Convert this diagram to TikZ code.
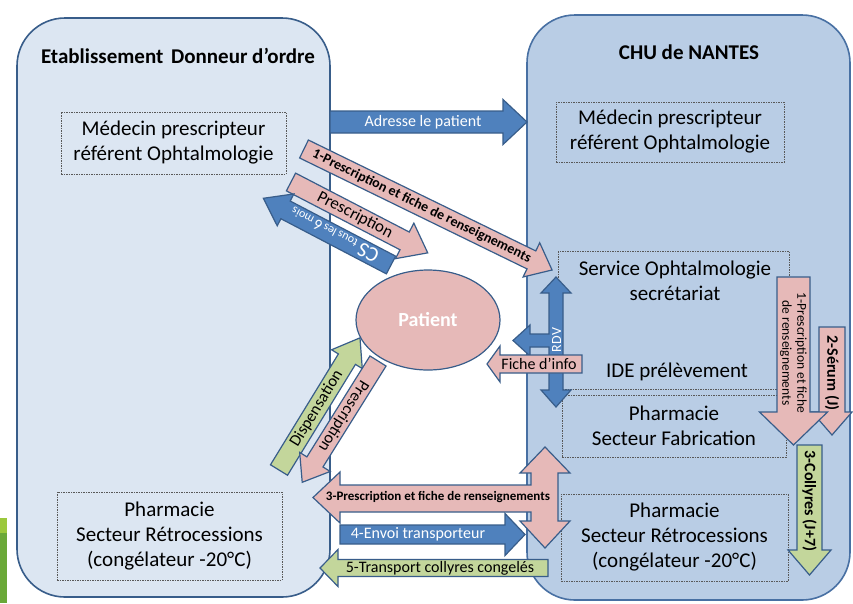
\documentclass[tikz,border=0pt]{standalone}
\usepackage{fontspec}
\setmainfont{Carlito}
\usetikzlibrary{shapes.geometric}

\definecolor{panelA}{RGB}{220,230,242}
\definecolor{panelB}{RGB}{185,205,229}
\definecolor{edgeblue}{RGB}{56,93,138}
\definecolor{edgeright}{RGB}{72,112,163}
\definecolor{arrblue}{RGB}{79,129,189}
\definecolor{arrpink}{RGB}{230,185,184}
\definecolor{arrgreen}{RGB}{195,214,155}
\definecolor{barlight}{RGB}{155,200,60}
\definecolor{bardark}{RGB}{106,168,56}

\tikzset{
  panel/.style={line width=1.6pt, rounded corners=48pt},
  ibox/.style={draw=black!65, line width=0.6pt, dash pattern=on 1.5pt off 1pt},
  boxtxt/.style={font=\fontsize{21}{25}\selectfont, align=center, inner sep=0pt},
  title/.style={font=\bfseries\fontsize{21}{25}\selectfont},
  blockedge/.style={draw=edgeblue, line width=1.2pt, line join=miter},
  bluearr/.style={blockedge, fill=arrblue},
  pinkarr/.style={blockedge, fill=arrpink},
  greenarr/.style={blockedge, fill=arrgreen},
  wtxt/.style={text=white, inner sep=0pt},
  ktxt/.style={text=black, inner sep=0pt},
}

% block arrow along +x: style, length, shaft half width, head half width, head length
\newcommand{\blockarrow}[5]{%
  \draw[#1] (0,{-#3}) -- ({#2-#5},{-#3}) -- ({#2-#5},{-#4}) -- (#2,0)
    -- ({#2-#5},{#4}) -- ({#2-#5},{#3}) -- (0,{#3}) -- cycle;}

\begin{document}
\begin{tikzpicture}[x=1pt, y=-1pt]
    \useasboundingbox (0,0) rectangle (853,603);

    % panels
    \draw[panel, draw=edgeblue, fill=panelA] (17,18) rectangle (330,597);
    \draw[panel, draw=edgeright, fill=panelB] (527,15) rectangle (850,600);
    \fill[barlight] (0,518) rectangle (7,533);
    \fill[bardark] (0,533) rectangle (7,603);

    \node[title] (titleL) at (178,56) {Etablissement\hspace{3pt} Donneur d’ordre};
    \node[title] (titleR) at (689,52) {CHU de NANTES};

    % boxes
    \node[ibox, boxtxt, minimum width=225, minimum height=62] (medL) at (173.5,143) {Médecin prescripteur\\référent Ophtalmologie};
    \node[ibox, boxtxt, minimum width=228, minimum height=60] (medR) at (670,132) {Médecin prescripteur\\référent Ophtalmologie};
    \draw[ibox] (558,251) rectangle (789,389);
    \node[boxtxt] (serv) at (675,281) {Service Ophtalmologie\\secrétariat};
    \node[boxtxt] (ide) at (677,372) {IDE prélèvement};
    \node[ibox, boxtxt, minimum width=224, minimum height=62] (fab) at (674,426) {Pharmacie\\Secteur Fabrication};
    \node[ibox, boxtxt, minimum width=227, minimum height=87] (retroR) at (674.5,537.5) {Pharmacie\\Secteur Rétrocessions\\(congélateur -20°C)};
    \node[ibox, boxtxt, minimum width=225, minimum height=88] (retroL) at (169.5,536) {Pharmacie\\Secteur Rétrocessions\\(congélateur -20°C)};

    \node[ellipse, draw=edgeblue, line width=1.2pt, fill=arrpink, minimum width=144, minimum height=100,
          text=white, font=\bfseries\fontsize{20}{24}\selectfont] (pat) at (428,320) {Patient};

    % top arrows
    \begin{scope}[shift={(330,122)}]
        \blockarrow{bluearr}{197}{11}{22.5}{24}
        \node[wtxt, font=\fontsize{16}{19}\selectfont] (adr) at (93,0) {Adresse le patient};
    \end{scope}
    \begin{scope}[shift={(304,149)}, rotate=-26, transform shape]
        \blockarrow{pinkarr}{276}{10}{19}{23}
        \node[ktxt, font=\bfseries\fontsize{14}{16}\selectfont] (presA) at (131,0) {1-Prescription et fiche de renseignements};
    \end{scope}
    \begin{scope}[shift={(291,182)}, rotate=-27.4, transform shape]
        \blockarrow{pinkarr}{154}{10}{20}{26}
        \node[ktxt, font=\fontsize{17}{19}\selectfont] (presB) at (72,0) {Prescription};
    \end{scope}
    \begin{scope}[shift={(391,265)}, rotate=152.4, transform shape]
        \blockarrow{bluearr}{144}{10}{18}{25}
        \node[wtxt] (cs) at (64,0) {{\fontsize{21}{21}\selectfont CS}\, {\fontsize{12}{12}\selectfont tous les} {\fontsize{15}{15}\selectfont 6} {\fontsize{12}{12}\selectfont mois}};
    \end{scope}

    % patient / pharmacie
    \begin{scope}[shift={(279,470)}, rotate=58.5, transform shape]
        \blockarrow{greenarr}{155}{10}{18}{25}
        \node[ktxt, font=\fontsize{16.5}{19}\selectfont] (disp) at (72,0) {Dispensation};
    \end{scope}
    \begin{scope}[shift={(378,361)}, rotate=-122, transform shape]
        \blockarrow{pinkarr}{143}{9.5}{18}{24}
        \node[ktxt, font=\fontsize{16.5}{19}\selectfont] (presC) at (65,0) {Prescription};
    \end{scope}

    % RDV
    \draw[bluearr] (556,277) -- (571,293) -- (563,293) -- (563,390) -- (571,390) -- (556,407) -- (541,390) -- (549,390)
        -- (549,347) -- (530,347) -- (530,356) -- (513,340.5) -- (530,325) -- (530,334) -- (549,334) -- (549,293) -- (541,293) -- cycle;
    \node[wtxt, rotate=90, font=\fontsize{14}{16}\selectfont] (rdv) at (556.5,340) {RDV};
    \begin{scope}[shift={(582,364)}, xscale=-1]
        \blockarrow{pinkarr}{95}{9}{18}{13}
    \end{scope}
    \node[ktxt, font=\fontsize{16}{19}\selectfont] (fiche) at (539,364) {Fiche d’info};

    % bottom arrows
    \draw[pinkarr] (545,447) -- (570,473) -- (558,473) -- (558,521) -- (570,521) -- (545,548) -- (520,521) -- (531,521)
        -- (531,512) -- (340,512) -- (340,523) -- (313,497.5) -- (340,472) -- (340,485) -- (531,485) -- (531,473) -- (520,473) -- cycle;
    \node[ktxt, font=\bfseries\fontsize{13}{15}\selectfont] (presD) at (438,497.5) {3-Prescription et fiche de renseignements};
    \begin{scope}[shift={(340,534.5)}]
        \blockarrow{bluearr}{185}{9.5}{21}{20}
        \node[wtxt, font=\fontsize{16}{19}\selectfont] (envoi) at (78,0) {4-Envoi transporteur};
    \end{scope}
    \begin{scope}[shift={(548,568)}, xscale=-1]
        \blockarrow{greenarr}{228}{8.5}{18.5}{18}
    \end{scope}
    \node[ktxt, font=\fontsize{16}{19}\selectfont] (transp) at (440,568) {5-Transport collyres congelés};

    % right side
    \begin{scope}[shift={(832,327)}, rotate=-90, transform shape]
        \blockarrow{pinkarr}{108}{13}{20}{23}
        \node[ktxt, font=\bfseries\fontsize{16}{19}\selectfont] (serum) at (46,0) {2-Sérum (J)};
    \end{scope}
    \begin{scope}[shift={(793.5,277)}, rotate=-90, transform shape]
        \blockarrow{pinkarr}{168}{16.5}{34}{33}
        \node[ktxt, align=center, font=\fontsize{13.5}{15}\selectfont] (presE) at (76,0) {1-Prescription et fiche\\de renseignements};
    \end{scope}
    \begin{scope}[shift={(809.5,445)}, rotate=-90, transform shape]
        \blockarrow{greenarr}{130}{12.5}{21.5}{25}
        \node[ktxt, font=\bfseries\fontsize{16}{19}\selectfont] (coll) at (56,0) {3-Collyres (J+7)};
    \end{scope}
\end{tikzpicture}
\end{document}
